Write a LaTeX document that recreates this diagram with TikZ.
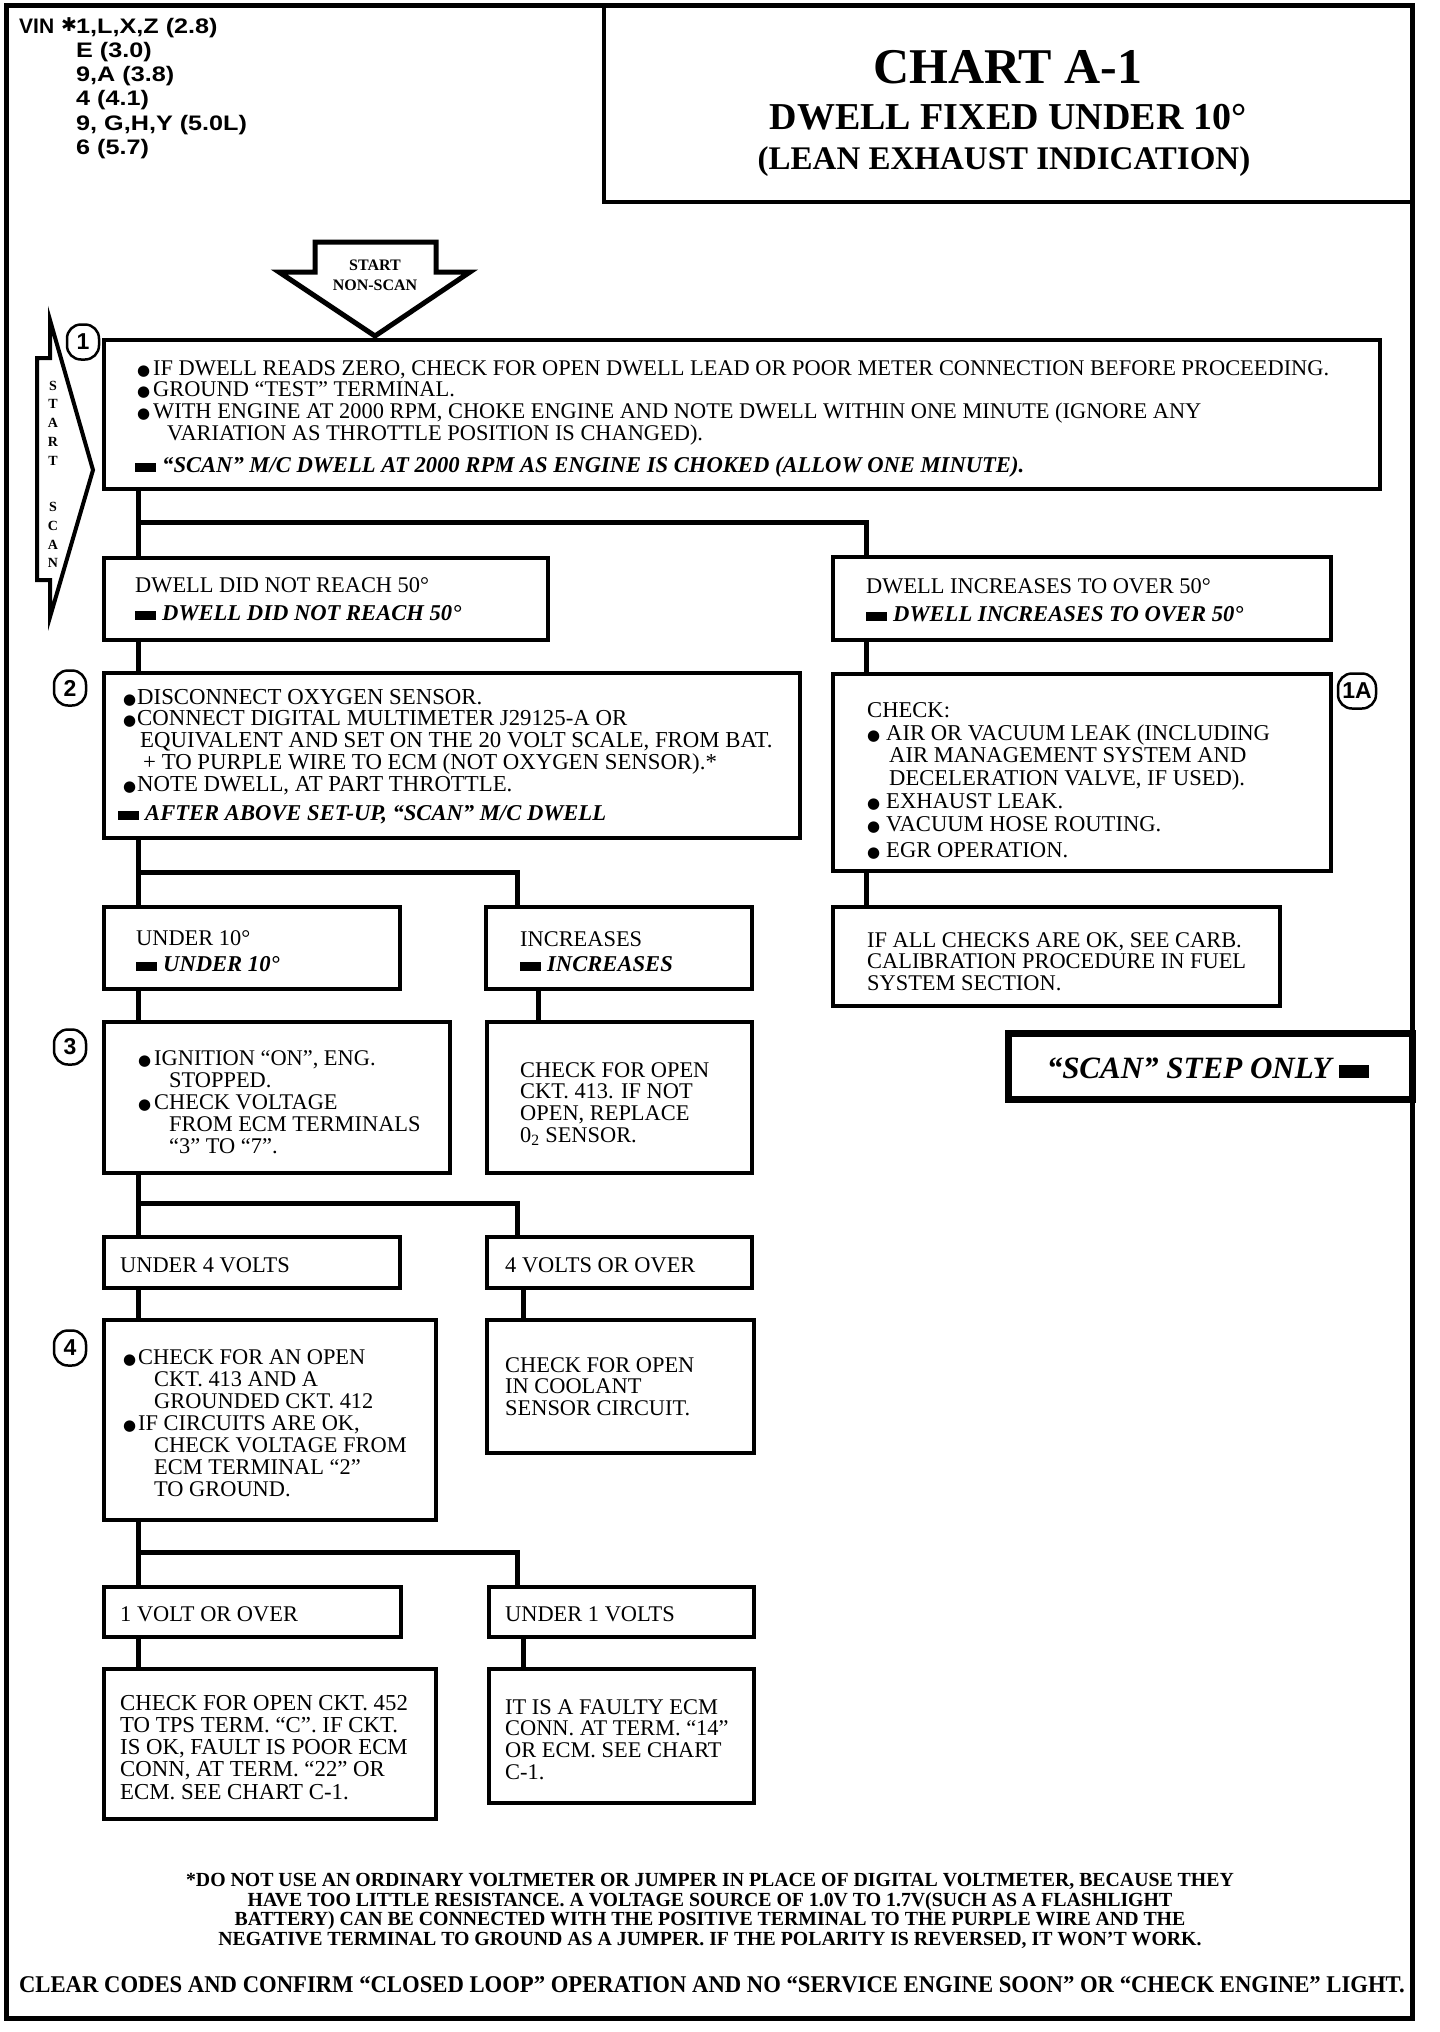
\documentclass[tikz,border=0pt]{standalone}
\usepackage{fontspec}
\usepackage{graphicx}
\setmainfont{Liberation Serif}
\newfontfamily\lsans{Liberation Sans}
\newfontfamily\dejavu{DejaVu Sans}
\newcommand\fsz[2]{\fontsize{#1}{#2}\selectfont}
\newcommand\bul[1][16pt]{\makebox[#1][l]{\raisebox{0pt}{\dejavu\fontsize{15}{15}\selectfont ●}}}
\newcommand\blk{\rule{21pt}{9pt}\hspace{6pt}}
\newcommand\fl{\rule{0pt}{16pt}}
\newcommand\vs[1]{\scalebox{1.2}[1]{#1}}
\newcommand\mybox[6][]{\node[box,#1,minimum width={(#5-#3)*1pt},minimum height={(#6-#4)*1pt}] (#2) at ({(#3+#5)/2},{(#4+#6)/2}) {};}
\begin{document}
\begin{tikzpicture}[x=1pt,y=-1pt,
  box/.style={draw,line width=4pt,inner sep=0pt,outer sep=0pt},
  conn/.style={line width=5pt},
  txt/.style={anchor=base west,inner sep=0pt,align=left,font=\fsz{22.4}{21.7}},
  mtxt/.style={anchor=north west,inner sep=0pt,align=left,font=\fsz{22.4}{21.7}},
  stxt/.style={anchor=base west,inner sep=0pt,align=left,font=\bfseries\itshape\fsz{22.6}{22}},
  circ/.style={draw,line width=2.5pt,rounded corners=14pt,minimum width=32pt,minimum height=35pt,inner sep=0pt,font=\lsans\bfseries\fsz{23}{23}},
  vin/.style={anchor=north west,inner sep=0pt,align=left,font=\lsans\bfseries\fsz{21}{24.2}}]
\useasboundingbox (0,0) rectangle (1440,2032);
% outer frame
\draw[line width=5pt] (6,5) rectangle (1412,2018);
% VIN block
\node[vin] (vinA) at (19,17) {\fl VIN};
\node[inner sep=0pt,font=\dejavu\bfseries\fsz{19}{19}] (vstar) at (69,25) {✱};
\node[vin] (vinB) at (76,17) {\fl\vs{1,L,X,Z (2.8)}\\\vs{E (3.0)}\\\vs{9,A (3.8)}\\\vs{4 (4.1)}\\\vs{9, G,H,Y (5.0L)}\\\vs{6 (5.7)}};
% title
\mybox{tbox}{604}{5}{1412}{202}
\node[inner sep=0pt,font=\bfseries\fsz{50}{50}] (tA) at (1008,67) {CHART A-1};
\node[inner sep=0pt,font=\bfseries\fsz{38}{38}] (tB) at (1008,117) {DWELL FIXED UNDER 10°};
\node[inner sep=0pt,font=\bfseries\fsz{33}{33}] (tC) at (1004,162) {(LEAN EXHAUST INDICATION)};
% start non-scan arrow
\draw[line width=5pt,line join=miter] (315,242) -- (436,242) -- (436,272) -- (470,272) -- (375,336) -- (279,272) -- (315,272) -- cycle;
\node[inner sep=0pt,align=center,font=\bfseries\fsz{16}{20}] (tns) at (375,275) {START\\NON-SCAN};
% start scan arrow
\draw[line width=4pt,line join=miter] (50,320) -- (50,358) -- (37,358) -- (37,580) -- (50,580) -- (50,617) -- (93,470) -- cycle;
\node[anchor=north,inner sep=0pt,align=center,font=\bfseries\fsz{14}{18.7}] (tss) at (53,378) {\rule{0pt}{12pt}S\\T\\A\\R\\T\\[28pt]S\\C\\A\\N};
% boxes
\mybox{b1}{104}{340}{1380}{489}
\mybox{b1n}{104}{558}{548}{640}
\mybox{b1y}{833}{557}{1331}{640}
\mybox{b2}{104}{673}{800}{838}
\mybox{b1a}{833}{674}{1331}{871}
\mybox{bok}{833}{907}{1280}{1006}
\mybox[line width=7pt]{bscan}{1008}{1033}{1412}{1099}
\mybox{b2a}{104}{907}{400}{989}
\mybox{b2b}{486}{907}{752}{989}
\mybox{b3}{104}{1022}{450}{1173}
\mybox{b3b}{487}{1022}{752}{1173}
\mybox{b3c}{104}{1237}{400}{1288}
\mybox{b3d}{487}{1237}{752}{1288}
\mybox{b4}{104}{1320}{436}{1520}
\mybox{b4b}{487}{1320}{754}{1453}
\mybox{b5a}{104}{1587}{401}{1637}
\mybox{b5b}{489}{1587}{754}{1637}
\mybox{b6a}{104}{1669}{436}{1819}
\mybox{b6b}{489}{1669}{754}{1803}
% circled step numbers
\node[circ] (c1) at (83,342) {1};
\node[circ] (c2) at (70,688) {2};
\node[circ] (c3) at (70,1047) {3};
\node[circ] (c4) at (70,1348) {4};
\node[circ,minimum width=38pt] (c1a) at (1357,691) {1A};
% connectors
\coordinate (j1) at (138,522);
\coordinate (j1r) at (866,522);
\draw[conn] (b1.south -| j1) -- (b1n.north -| j1);
\draw[conn,line join=miter] (j1) -- (j1r) -- (b1y.north -| j1r);
\draw[conn] (b1y.south -| j1r) -- (b1a.north -| j1r);
\draw[conn] (b1a.south -| j1r) -- (bok.north -| j1r);
\draw[conn] (b1n.south -| j1) -- (b2.north -| j1);
\coordinate (j2) at (138,872);
\coordinate (j2r) at (517,872);
\coordinate (k2) at (538,1005);
\draw[conn] (b2.south -| j2) -- (b2a.north -| j2);
\draw[conn,line join=miter] (j2) -- (j2r) -- (b2b.north -| j2r);
\draw[conn] (b2a.south -| j2) -- (b3.north -| j2);
\draw[conn] (b2b.south -| k2) -- (b3b.north -| k2);
\coordinate (j3) at (138,1203);
\coordinate (j3r) at (517,1203);
\coordinate (k3) at (523,1304);
\draw[conn] (b3.south -| j3) -- (b3c.north -| j3);
\draw[conn,line join=miter] (j3) -- (j3r) -- (b3d.north -| j3r);
\draw[conn] (b3c.south -| j3) -- (b4.north -| j3);
\draw[conn] (b3d.south -| k3) -- (b4b.north -| k3);
\coordinate (j4) at (138,1552);
\coordinate (j4r) at (517,1552);
\coordinate (k4) at (523,1653);
\draw[conn] (b4.south -| j4) -- (b5a.north -| j4);
\draw[conn,line join=miter] (j4) -- (j4r) -- (b5b.north -| j4r);
\draw[conn] (b5a.south -| j4) -- (b6a.north -| j4);
\draw[conn] (b5b.south -| k4) -- (b6b.north -| k4);
% texts
\node[mtxt] (t1a) at (137,359) {\fl\bul IF DWELL READS ZERO, CHECK FOR OPEN DWELL LEAD OR POOR METER CONNECTION BEFORE PROCEEDING.\\\bul GROUND “TEST” TERMINAL.\\\bul WITH ENGINE AT 2000 RPM, CHOKE ENGINE AND NOTE DWELL WITHIN ONE MINUTE (IGNORE ANY\\\hspace*{30pt}VARIATION AS THROTTLE POSITION IS CHANGED).};
\node[stxt] (t1b) at (135,472) {\blk“SCAN” M/C DWELL AT 2000 RPM AS ENGINE IS CHOKED (ALLOW ONE MINUTE).};
\node[txt] (t1n) at (135,592) {DWELL DID NOT REACH 50°};
\node[stxt] (t1ns) at (135,620) {\blk DWELL DID NOT REACH 50°};
\node[txt] (t1y) at (866,593) {DWELL INCREASES TO OVER 50°};
\node[stxt] (t1ys) at (866,621) {\blk DWELL INCREASES TO OVER 50°};
\node[mtxt,font=\fsz{22.8}{21.7}] (t2) at (123,688) {\fl\bul[14pt]DISCONNECT OXYGEN SENSOR.\\\bul[14pt]CONNECT DIGITAL MULTIMETER J29125-A OR\\\hspace*{17pt}EQUIVALENT AND SET ON THE 20 VOLT SCALE, FROM BAT.\\\hspace*{20pt}+ TO PURPLE WIRE TO ECM (NOT OXYGEN SENSOR).*\\\bul[14pt]NOTE DWELL, AT PART THROTTLE.};
\node[stxt] (t2s) at (118,820) {\blk AFTER ABOVE SET-UP, “SCAN” M/C DWELL};
\node[mtxt,font=\fsz{22.6}{22.8}] (t1a2) at (867,701) {\fl CHECK:\\\bul[19pt]AIR OR VACUUM LEAK (INCLUDING\\\hspace*{22pt}AIR MANAGEMENT SYSTEM AND\\\hspace*{22pt}DECELERATION VALVE, IF USED).\\\bul[19pt]EXHAUST LEAK.\\\bul[19pt]VACUUM HOSE ROUTING.\\[3pt]\bul[19pt]EGR OPERATION.};
\node[mtxt] (tok) at (867,931) {\fl IF ALL CHECKS ARE OK, SEE CARB.\\CALIBRATION PROCEDURE IN FUEL\\SYSTEM SECTION.};
\node[font=\bfseries\itshape\fsz{31}{31},inner sep=0pt] (tscan) at (1208,1068) {“SCAN” STEP ONLY \rule{30pt}{13pt}};
\node[txt] (t2a) at (136,945) {UNDER 10°};
\node[stxt] (t2as) at (136,971) {\blk UNDER 10°};
\node[txt] (t2b) at (520,946) {INCREASES};
\node[stxt] (t2bs) at (520,971) {\blk INCREASES};
\node[mtxt,font=\fsz{22.4}{22}] (t3) at (138,1049) {\fl\bul IGNITION “ON”, ENG.\\\hspace*{31pt}STOPPED.\\\bul CHECK VOLTAGE\\\hspace*{31pt}FROM ECM TERMINALS\\\hspace*{31pt}“3” TO “7”.};
\node[mtxt] (t3b) at (520,1061) {\fl CHECK FOR OPEN\\CKT. 413. IF NOT\\OPEN, REPLACE\\0\textsubscript{2} SENSOR.};
\node[txt] (t3c) at (120,1272) {UNDER 4 VOLTS};
\node[txt] (t3d) at (505,1272) {4 VOLTS OR OVER};
\node[mtxt,font=\fsz{22.4}{22}] (t4) at (123,1348) {\fl\bul[15pt]CHECK FOR AN OPEN\\\hspace*{31pt}CKT. 413 AND A\\\hspace*{31pt}GROUNDED CKT. 412\\\bul[15pt]IF CIRCUITS ARE OK,\\\hspace*{31pt}CHECK VOLTAGE FROM\\\hspace*{31pt}ECM TERMINAL “2”\\\hspace*{31pt}TO GROUND.};
\node[mtxt] (t4b) at (505,1356) {\fl CHECK FOR OPEN\\IN COOLANT\\SENSOR CIRCUIT.};
\node[txt] (t5a) at (120,1621) {1 VOLT OR OVER};
\node[txt] (t5b) at (505,1621) {UNDER 1 VOLTS};
\node[mtxt,font=\fsz{22.8}{22.2}] (t6a) at (120,1694) {\fl CHECK FOR OPEN CKT. 452\\TO TPS TERM. “C”. IF CKT.\\IS OK, FAULT IS POOR ECM\\CONN, AT TERM. “22” OR\\ECM. SEE CHART C-1.};
\node[mtxt] (t6b) at (505,1698) {\fl IT IS A FAULTY ECM\\CONN. AT TERM. “14”\\OR ECM. SEE CHART\\C-1.};
% footer
\node[inner sep=0pt,align=center,font=\bfseries\fsz{20}{19.4}] (fn) at (710,1911) {\scalebox{0.99}[1]{*DO NOT USE AN ORDINARY VOLTMETER OR JUMPER IN PLACE OF DIGITAL VOLTMETER, BECAUSE THEY}\\\scalebox{0.99}[1]{HAVE TOO LITTLE RESISTANCE. A VOLTAGE SOURCE OF 1.0V TO 1.7V(SUCH AS A FLASHLIGHT}\\\scalebox{0.99}[1]{BATTERY) CAN BE CONNECTED WITH THE POSITIVE TERMINAL TO THE PURPLE WIRE AND THE}\\\scalebox{0.99}[1]{NEGATIVE TERMINAL TO GROUND AS A JUMPER. IF THE POLARITY IS REVERSED, IT WON’T WORK.}};
\node[inner sep=0pt,font=\bfseries\fsz{24}{24}] (clr) at (712,1985) {\scalebox{0.945}[1]{CLEAR CODES AND CONFIRM “CLOSED LOOP” OPERATION AND NO “SERVICE ENGINE SOON” OR “CHECK ENGINE” LIGHT.}};
\end{tikzpicture}
\end{document}
